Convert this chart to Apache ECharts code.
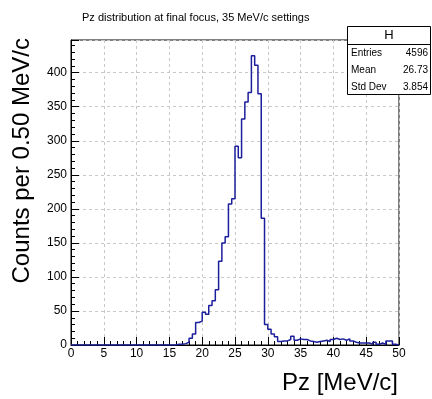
<!DOCTYPE html>
<html>
<head>
<meta charset="utf-8">
<script src="https://cdn.jsdelivr.net/npm/echarts@6/dist/echarts.min.js"></script>
<style>html,body{margin:0;padding:0;background:#fff;}#c{width:432px;height:399px;}</style>
</head>
<body>
<div id="c"></div>
<script>
var titleText = 'Pz distribution at final focus, 35 MeV/c settings';
var xName = 'Pz [MeV/c]';
var yName = 'Counts per 0.50 MeV/c';
var xMin = 0, xMax = 50, binWidth = 0.5;
var counts = [
  0,0,0,0,0,0,0,0,0,0, 0,0,0,0,0,0,0,0,0,0, 0,0,0,0,0,0,0,0,0,0, 0,0,
  1,1,2,4,10,16,33,35,
  48,45,58,65,81,123,150,159,207,215,
  292,275,332,357,371,425,411,369,186,30,
  23,16,12,5,6,6,8,13,7,9,
  8,8,6,5,4,5,6,7,5,8,
  10,8,9,7,9,6,4,3,3,3,
  3,1,4,1,3,1,6,6,1,0
];
var statsLabels = ['Entries', 'Mean', 'Std Dev'];
var statsValues = ['4596', '26.73', '3.854'];
var statsName = 'H';

var pts = [];
for (var i = 0; i < counts.length; i++) pts.push([xMin + i * binWidth, counts[i]]);
pts.push([xMin + counts.length * binWidth, counts[counts.length - 1]]);

var FONT = 'Liberation Sans, Arial, Helvetica, sans-serif';
var chart = echarts.init(document.getElementById('c'), null, {renderer: 'canvas'});
var statsG = [
  {type: 'rect', z: 100, shape: {x: 347.5, y: 26.5, width: 83, height: 68}, style: {fill: '#fff', stroke: '#000', lineWidth: 1}},
  {type: 'line', z: 101, shape: {x1: 347.5, y1: 44.5, x2: 430.5, y2: 44.5}, style: {stroke: '#000', lineWidth: 1}},
  {type: 'text', z: 101, x: 389, y: 35.5, style: {text: statsName, font: '13px ' + FONT, fill: '#000', textAlign: 'center', textVerticalAlign: 'middle'}}
];
for (var k = 0; k < statsLabels.length; k++) {
  var yy = 53 + k * 17;
  statsG.push({type: 'text', z: 101, x: 351, y: yy, style: {text: statsLabels[k], font: '10px ' + FONT, fill: '#000', textAlign: 'left', textVerticalAlign: 'middle'}});
  statsG.push({type: 'text', z: 101, x: 428, y: yy, style: {text: statsValues[k], font: '10px ' + FONT, fill: '#000', textAlign: 'right', textVerticalAlign: 'middle'}});
}
statsG.push({type: 'text', z: 101, x: 22, y: 38, rotation: Math.PI / 2, style: {text: yName, font: '24px ' + FONT, fill: '#000', textAlign: 'right', textVerticalAlign: 'middle'}});
statsG.push({type: 'text', z: 101, x: 398, y: 383, style: {text: xName, font: '24px ' + FONT, fill: '#000', textAlign: 'right', textVerticalAlign: 'middle'}});

chart.setOption({
  animation: false,
  title: {text: titleText, left: 77, top: 7, textStyle: {fontSize: 11, fontWeight: 'normal', color: '#000', fontFamily: FONT}},
  grid: {left: 71, right: 33, top: 40, bottom: 54, show: true, borderColor: '#000', borderWidth: 1, backgroundColor: 'transparent'},
  xAxis: {
    type: 'value', min: xMin, max: xMax, interval: 5,
    axisLine: {show: true, lineStyle: {color: '#000', width: 1}},
    axisTick: {show: true, inside: true, length: 8, lineStyle: {color: '#000'}},
    minorTick: {show: true, splitNumber: 5, length: 4, lineStyle: {color: '#000'}},
    axisLabel: {color: '#000', fontSize: 12, fontFamily: FONT, margin: 3},
    splitLine: {show: true, lineStyle: {color: '#c8c8c8', type: [3, 3], width: 1}}
  },
  yAxis: {
    type: 'value', min: 0, max: 448, interval: 50,
    axisLine: {show: true, lineStyle: {color: '#000', width: 1}},
    axisTick: {show: true, inside: true, length: 8, lineStyle: {color: '#000'}},
    minorTick: {show: true, splitNumber: 5, length: 4, lineStyle: {color: '#000'}},
    axisLabel: {color: '#000', fontSize: 12, fontFamily: FONT, margin: 4, showMaxLabel: false},
    splitLine: {show: true, lineStyle: {color: '#c8c8c8', type: [3, 3], width: 1}}
  },
  series: [{
    type: 'line', step: 'end', data: pts, symbol: 'none',
    lineStyle: {color: '#1c1f9c', width: 1.5}, z: 5
  }],
  graphic: statsG
});
</script>
</body>
</html>
